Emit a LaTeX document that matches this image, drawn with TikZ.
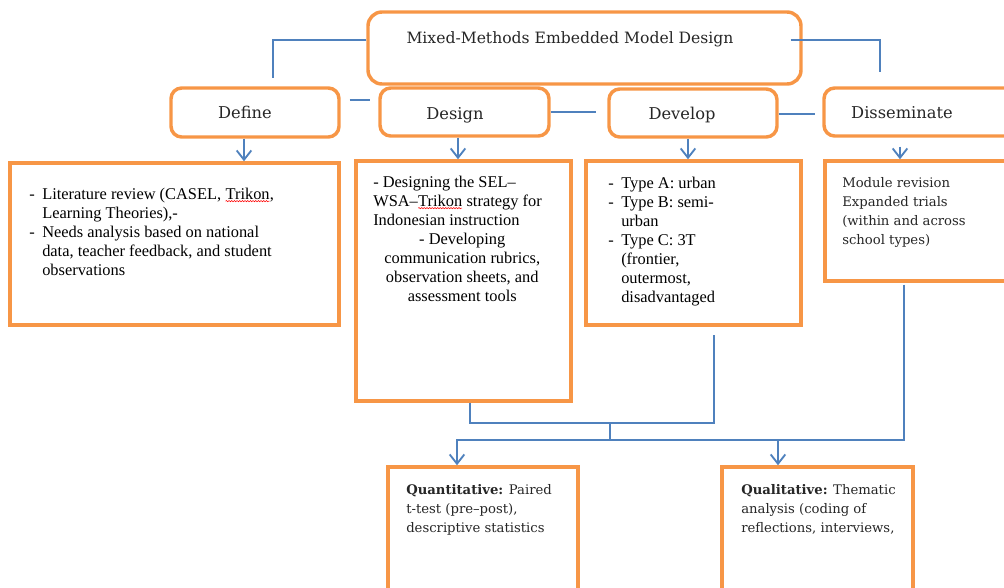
\documentclass[tikz,border=0pt]{standalone}
\usepackage{fontspec}
\setmainfont{Liberation Serif}
\newfontfamily\headfont{DejaVu Serif}
\usetikzlibrary{fit,arrows.meta,decorations.pathmorphing}

\definecolor{boxorange}{HTML}{F79646}
\definecolor{linkblue}{HTML}{4F81BD}
\definecolor{inkgray}{HTML}{262626}

% text settings
\newcommand\bodysize{\fontsize{12.3}{14.25}\selectfont}
\newcommand\titlesize{\headfont\fontsize{11.7}{14}\selectfont}
\newcommand\headsize{\headfont\fontsize{12.2}{14}\selectfont}
\newcommand\smallhead{\headfont\fontsize{9.9}{14.25}\selectfont}
% spell-check style wavy underline
\newcommand\squig[1]{\tikz[baseline=(w.base)]{\node[inner sep=0pt,outer sep=0pt](w){#1};
  \draw[red,line width=0.4pt,decorate,decoration={snake,amplitude=0.45pt,segment length=2pt}]
    ([yshift=-1.6pt]w.base west) -- ([yshift=-1.6pt]w.base east);}}

\begin{document}
\begin{tikzpicture}[x=0.75pt,y=-0.75pt,
  box/.style={rectangle,draw=boxorange,line width=2.6pt,fill=white,inner sep=0pt},
  rbox/.style={box,rounded corners=8pt},
  tbox/.style={box,rounded corners=10.5pt},
  link/.style={draw=linkblue,line width=0.9pt},
  arr/.style={draw=linkblue,line width=1.4pt,-{Straight Barb[length=7pt,width=11pt]}},
  head/.style={inner sep=0pt,anchor=base,font=\headsize,text=inkgray},
  body/.style={inner sep=0pt,anchor=base west,font=\bodysize,text=black},
  qbody/.style={inner sep=0pt,anchor=base west,font=\smallhead,text=inkgray}]
\useasboundingbox (0,0) rectangle (1004,587);
\clip (0,0) rectangle (1004,587);

% top title
\node[tbox,fit={(368,12) (801,84)}] (title) {};
\node[head,font=\titlesize] (titletxt) at (570,43) {Mixed-Methods Embedded Model Design};

% the four phases
\node[rbox,fit={(171,88) (339,137)}] (def) {};
\node[rbox,fit={(380,88) (549,136)}] (des) {};
\node[rbox,fit={(609,89) (777,137)}] (dev) {};
\node[rbox,fit={(824,88) (1030,136)}] (dis) {};
\node[head] (deftxt) at (245,118) {Define};
\node[head] (destxt) at (455,119) {Design};
\node[head] (devtxt) at (682,119) {Develop};
\node[head] (distxt) at (902,118) {Disseminate};

% phase details
\node[box,fit={(10,163) (339,325)}] (d1) {};
\node[box,fit={(356,161) (571,401)}] (d2) {};
\node[box,fit={(586,161) (801,325)}] (d3) {};
\node[box,fit={(825,161) (1030,281)}] (d4) {};

\node[body] (d1txt) at (29,199) {\begin{tabular}[t]{@{}p{9.75pt}@{}l@{}}
-& Literature review (CASEL, \squig{Trikon},\\
 & Learning Theories),-\\
-& Needs analysis based on national\\
 & data, teacher feedback, and student\\
 & observations
\end{tabular}};

\node[body] (d2txt) at (373,187) {\begin{tabular}[t]{@{}l@{}}
- Designing the SEL–\\
WSA–\squig{Trikon} strategy for\\
Indonesian instruction\\
\makebox[133.5pt][c]{- Developing}\\
\makebox[133.5pt][c]{communication rubrics,}\\
\makebox[133.5pt][c]{observation sheets, and}\\
\makebox[133.5pt][c]{assessment tools}
\end{tabular}};

\node[body] (d3txt) at (608,188) {\begin{tabular}[t]{@{}p{9.75pt}@{}l@{}}
-& Type A: urban\\
-& Type B: semi-\\
 & urban\\
-& Type C: 3T\\
 & (frontier,\\
 & outermost,\\
 & disadvantaged
\end{tabular}};

\node[qbody] (d4txt) at (842,187) {\begin{tabular}[t]{@{}l@{}}
Module revision\\
Expanded trials\\
(within and across\\
school types)
\end{tabular}};

% analysis boxes
\node[box,fit={(388,467) (578,610)}] (qn) {};
\node[box,fit={(722,467) (913,610)}] (ql) {};
\node[qbody] (qntxt) at (406,494) {\begin{tabular}[t]{@{}l@{}}
\textbf{Quantitative:} Paired\\
t-test (pre–post),\\
descriptive statistics
\end{tabular}};
\node[qbody] (qltxt) at (741,494) {\begin{tabular}[t]{@{}l@{}}
\textbf{Qualitative:} Thematic\\
analysis (coding of\\
reflections, interviews,
\end{tabular}};

% connectors from the title
\coordinate (tl) at (273,78);
\coordinate (tr) at (880,72);
\draw[link] ([yshift=6pt]title.west) -| (tl);
\draw[link] ([xshift=-9pt,yshift=6pt]title.east) -| (tr);

% connectors between phases
\draw[link] ([xshift=6.75pt,yshift=9.4pt]def.east) -- ([xshift=-6pt,yshift=9.4pt]def.east -| des.west);
\draw[link] (des.east) -- ([xshift=-8.25pt]des.east -| dev.west);
\draw[link] ([yshift=-0.75pt]dev.east) -- ([xshift=-5.25pt,yshift=-0.75pt]dev.east -| dis.west);

% phase arrows
\draw[arr] (def.south -| 244,0) -- (d1.north -| 244,0);
\draw[arr] (des.south -| 458,0) -- (d2.north -| 458,0);
\draw[arr] (dev.south -| 688,0) -- (d3.north -| 688,0);
\draw[arr] ([yshift=-6.75pt]dis.south -| 900,0) -- (d4.north -| 900,0);

% merging towards the analysis boxes
\coordinate (j) at (610,423);
\coordinate (k) at (610,440);
\draw[link] (d2.south -| 470,0) |- (j);
\draw[link] (j) -| ([yshift=-6pt]d3.south -| 714,0);
\draw[link] (j) -- (k);
\draw[link] ([yshift=-1.5pt]d4.south -| 904,0) |- (k);
\draw[arr] (k) -| (qn.north -| 457,0);
\draw[arr] (k) -| (ql.north -| 778,0);
\end{tikzpicture}
\end{document}
